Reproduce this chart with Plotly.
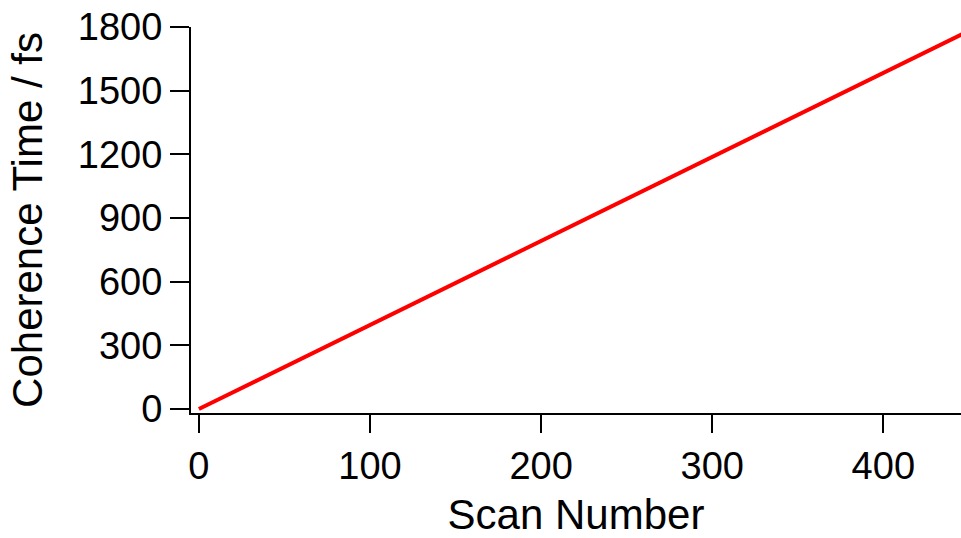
import plotly.graph_objects as go

scan_number = [0, 100, 200, 300, 400, 446]
coherence_time = [0, 396, 792, 1188, 1584, 1766]

y_ticks = [0, 300, 600, 900, 1200, 1500, 1800]
x_ticks = [0, 100, 200, 300, 400]

fig = go.Figure(
    go.Scatter(x=scan_number, y=coherence_time, mode='lines',
               line=dict(color='rgb(255,0,0)', width=4))
)

fig.update_xaxes(
    range=[-4.6, 445.4],
    tickvals=x_ticks,
    showline=True, linecolor='black', linewidth=2,
    ticks='outside', ticklen=18, tickwidth=2, tickcolor='black',
    showgrid=False, zeroline=False,
    tickfont=dict(size=38, color='black'),
    ticklabeloverflow='allow',
    title=dict(text='Scan Number', font=dict(size=42, color='black'), standoff=24)
)
fig.update_yaxes(
    range=[-18.8, 1800],
    tickvals=y_ticks,
    showline=True, linecolor='black', linewidth=2,
    ticks='outside', ticklen=19, tickwidth=2, tickcolor='black',
    showgrid=False, zeroline=False,
    tickfont=dict(size=38, color='black'),
    ticklabeloverflow='allow',
    title=dict(text='Coherence Time / fs', font=dict(size=42, color='black'), standoff=22)
)

fig.update_layout(
    width=961,
    height=538,
    font=dict(family='Liberation Sans, Arial, sans-serif'),
    plot_bgcolor='white',
    paper_bgcolor='white',
    showlegend=False,
    margin=dict(l=191, r=0, t=27, b=125, autoexpand=False)
)

# drop the default page margin so the figure fills the window exactly
fig.write_html("out.html",
               config={'displayModeBar': False},
               post_script="document.body.style.margin='0';document.body.style.overflow='hidden';")
